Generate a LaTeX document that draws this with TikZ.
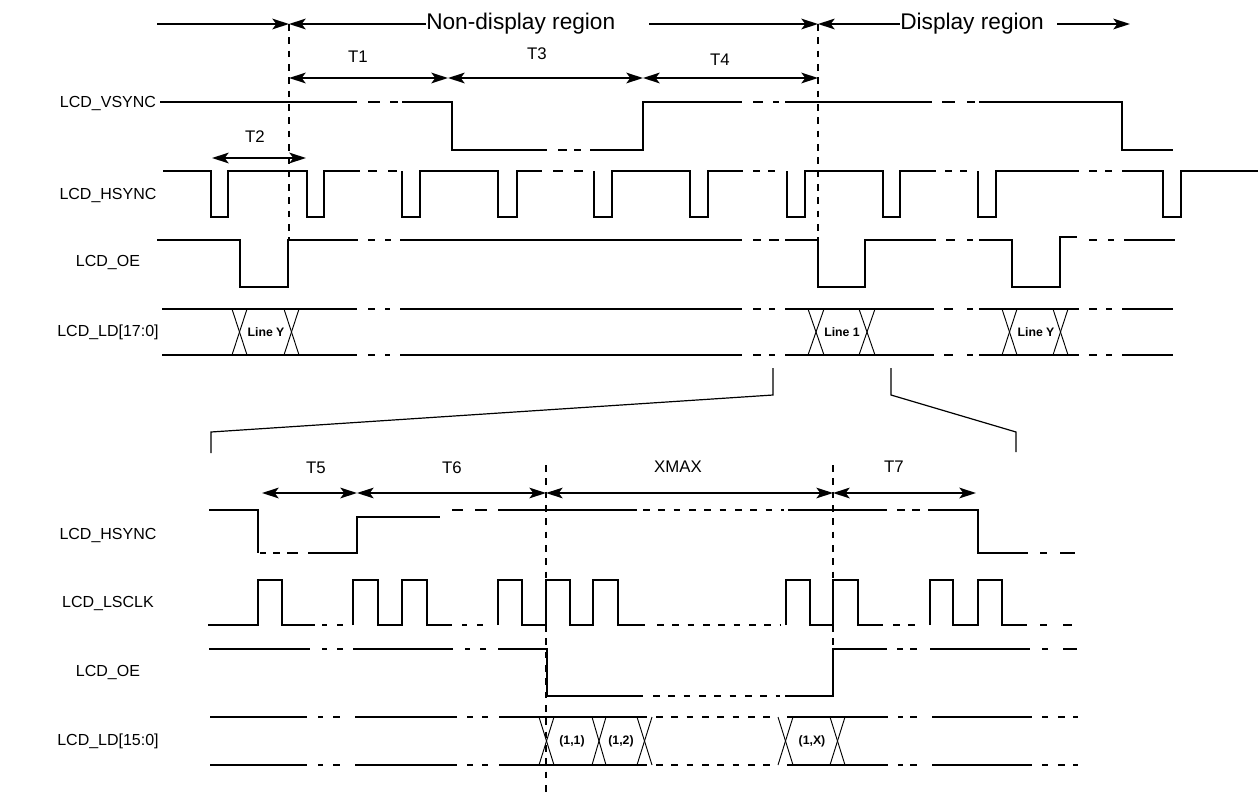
\documentclass[tikz,border=0pt]{standalone}
\usepackage{fontspec}
\setmainfont{Liberation Sans}
\usetikzlibrary{arrows.meta}
\newcommand\tdseg[3]{\draw[sig] (#1,#3) -- (#2,#3);}
\begin{document}
\begin{tikzpicture}[x=0.75pt,y=-0.75pt,
  sig/.style={line width=1.4pt},
  xl/.style={line width=0.7pt},
  brk/.style={line width=0.9pt},
  ldash/.style={line width=1.4pt, dash pattern=on 5pt off 6.5pt},
  vdash/.style={line width=1.5pt, dash pattern=on 5pt off 5pt},
  arr/.style={line width=1.4pt, {Stealth[length=12.5pt,width=8pt,inset=3pt]}-{Stealth[length=12.5pt,width=8pt,inset=3pt]}},
  rarr/.style={line width=1.4pt, -{Stealth[length=12.5pt,width=8pt,inset=3pt]}},
  larr/.style={line width=1.4pt, {Stealth[length=12.5pt,width=8pt,inset=3pt]}-},
  lab/.style={font=\fontsize{12}{14}\selectfont, inner sep=0pt},
  tl/.style={font=\fontsize{12.6}{14}\selectfont, inner sep=0pt},
  big/.style={font=\fontsize{17}{20}\selectfont, inner sep=0pt},
  bl/.style={font=\fontsize{9.2}{11}\selectfont\bfseries, inner sep=0pt}]
\useasboundingbox (0,0) rectangle (1259,793);
\fill[white] (0,0) rectangle (1259,793);

% ---------- signal labels ----------
\node[lab] (lv) at (108,103) {LCD\_VSYNC};
\node[lab] (lh) at (108,195) {LCD\_HSYNC};
\node[lab] (lo) at (108,262) {LCD\_OE};
\node[lab] (ll) at (108,332) {LCD\_LD[17:0]};
\node[lab] (bh) at (108,535) {LCD\_HSYNC};
\node[lab] (bc) at (108,603) {LCD\_LSCLK};
\node[lab] (bo) at (108,672) {LCD\_OE};
\node[lab] (bl) at (108,741) {LCD\_LD[15:0]};

% ---------- top region arrows ----------
\coordinate (a0) at (157,24);
\coordinate (v1) at (289,24);
\coordinate (v2) at (818,24);
\coordinate (a9) at (1130,24);
\node[big, anchor=west] (nd) at (426,24) {Non-display region};
\node[big, anchor=west] (dr) at (900,24) {Display region};
\coordinate (nd2) at (649,24);
\coordinate (dr2) at (1057,24);
\draw[rarr] (a0) -- (v1);
\draw[larr] (v1) -- (nd.west);
\draw[rarr] (nd2) -- (v2);
\draw[larr] (v2) -- (dr.west);
\draw[rarr] (dr2) -- (a9);

% vertical dashed markers (top)
\coordinate (v1b) at (289,240);
\coordinate (v2b) at (818,240);
\draw[vdash] (v1) -- (v1b);
\draw[vdash] (v2) -- (v2b);

% T1 T3 T4
\coordinate (t1a) at (289,78);
\coordinate (t1b) at (448,78);
\coordinate (t3b) at (643,78);
\coordinate (t4b) at (818,78);
\draw[arr] (t1a) -- (t1b);
\draw[arr] (t1b) -- (t3b);
\draw[arr] (t3b) -- (t4b);
\node[tl] (T1) at (358,57) {T1};
\node[tl] (T3) at (537,54) {T3};
\node[tl] (T4) at (720,60) {T4};

% T2
\coordinate (t2a) at (212,158);
\coordinate (t2b) at (306,158);
\draw[arr] (t2a) -- (t2b);
\node[tl] (T2) at (255,137) {T2};

% ---------- VSYNC ----------
\draw[sig] (160,102) -- (357,102);
\tdseg{368}{380}{102}\tdseg{390}{398}{102}
\draw[sig] (402,102) -- (452,102) -- (452,150) -- (547,150);
\tdseg{558}{567}{150}\tdseg{574}{581}{150}
\draw[sig] (590,150) -- (643,150) -- (643,102) -- (742,102);
\tdseg{753}{763}{102}\tdseg{773}{779}{102}
\draw[sig] (785,102) -- (932,102);
\tdseg{942}{955}{102}\tdseg{967}{975}{102}
\draw[sig] (979,102) -- (1122,102) -- (1122,150) -- (1173,150);

% ---------- HSYNC top ----------
\draw[sig] (163,171) -- (211,171) -- (211,217) -- (228,217) -- (228,171) -- (307,171) -- (307,217) -- (324,217) -- (324,171) -- (360,171);
\tdseg{368}{377}{171}\tdseg{388}{397}{171}
\draw[sig] (402,171) -- (402,217) -- (420,217) -- (420,171) -- (498,171) -- (498,217) -- (517,217) -- (517,171) -- (542,171);
\tdseg{553}{563}{171}\tdseg{574}{583}{171}
\draw[sig] (594,171) -- (594,217) -- (612,217) -- (612,171) -- (690,171) -- (690,217) -- (708,217) -- (708,171) -- (743,171);
\tdseg{753}{760}{171}\tdseg{768}{775}{171}
\draw[sig] (787,171) -- (787,217) -- (805,217) -- (805,171) -- (883,171) -- (883,217) -- (900,217) -- (900,171) -- (936,171);
\tdseg{945}{952}{171}\tdseg{960}{967}{171}
\draw[sig] (978,171) -- (978,217) -- (996,217) -- (996,171) -- (1079,171);
\tdseg{1089}{1097}{171}\tdseg{1105}{1112}{171}
\draw[sig] (1122,171) -- (1163,171) -- (1163,217) -- (1181,217) -- (1181,171) -- (1258,171);

% ---------- OE top ----------
\draw[sig] (157,240) -- (240,240) -- (240,287) -- (288,287) -- (288,240) -- (358,240);
\tdseg{368}{375}{240}\tdseg{385}{391}{240}
\draw[sig] (400,240) -- (742,240);
\tdseg{753}{761}{240}\tdseg{769}{779}{240}
\draw[sig] (785,240) -- (818,240) -- (818,287) -- (865,287) -- (865,240) -- (936,240);
\tdseg{946}{955}{240}\tdseg{967}{973}{240}
\draw[sig] (979,240) -- (1012,240) -- (1012,287) -- (1060,287) -- (1060,237) -- (1077,237);
\tdseg{1089}{1097}{240}\tdseg{1108}{1114}{240}
\draw[sig] (1124,240) -- (1175,240);

% ---------- LD top ----------
\foreach \yy in {309,355}{
  \draw[sig] (162,\yy) -- (357,\yy);
  \tdseg{368}{375}{\yy}\tdseg{385}{390}{\yy}
  \draw[sig] (400,\yy) -- (742,\yy);
  \tdseg{753}{761}{\yy}\tdseg{769}{775}{\yy}
  \draw[sig] (785,\yy) -- (934,\yy);
  \tdseg{944}{953}{\yy}\tdseg{967}{973}{\yy}
  \draw[sig] (979,\yy) -- (1079,\yy);
  \tdseg{1089}{1097}{\yy}\tdseg{1106}{1112}{\yy}
  \draw[sig] (1122,\yy) -- (1173,\yy);
}
\foreach \xa/\xb in {232/247,284/299,808/824,859/875,1002/1017,1053/1068}{
  \draw[xl] (\xa,309) -- (\xb,355);
  \draw[xl] (\xb,309) -- (\xa,355);
}
\node[bl] (ly1) at (266,332) {Line Y};
\node[bl] (l1) at (842,332) {Line 1};
\node[bl] (ly2) at (1036,332) {Line Y};

% ---------- zoom bracket ----------
\draw[brk] (773,368) -- (773,395) -- (211,432) -- (211,453);
\draw[brk] (891,368) -- (891,395) -- (1016,432) -- (1016,452);

% ---------- bottom arrows ----------
\coordinate (b1) at (262,493);
\coordinate (b2) at (357,493);
\coordinate (b3) at (546,493);
\coordinate (b4) at (833,493);
\coordinate (b5) at (976,493);
\draw[arr] (b1) -- (b2);
\draw[arr, line width=0.9pt] (b2) -- (b3);
\draw[arr, line width=0.9pt] (b3) -- (b4);
\draw[arr] (b4) -- (b5);
\node[tl] (T5) at (316,468) {T5};
\node[tl] (T6) at (452,468) {T6};
\node[tl] (XM) at (678,467) {XMAX};
\node[tl] (T7) at (894,467) {T7};
\coordinate (d1a) at (546,465);
\coordinate (d1b) at (546,793);
\coordinate (d2a) at (833,465);
\coordinate (d2b) at (833,648);
\draw[vdash] (d1a) -- (d1b);
\draw[vdash] (d2a) -- (d2b);

% ---------- HSYNC bottom ----------
\draw[sig] (209,510) -- (258,510) -- (258,553);
\tdseg{260}{266}{553}\tdseg{273}{280}{553}\tdseg{287}{298}{553}
\draw[sig] (308,553) -- (357,553) -- (357,517) -- (440,517);
\tdseg{452}{463}{510}\tdseg{475}{487}{510}
\draw[sig] (498,510) -- (637,510);
\draw[ldash] (643,510) -- (784,510);
\draw[sig] (788,510) -- (887,510);
\tdseg{897}{905}{510}\tdseg{912}{920}{510}
\draw[sig] (928,510) -- (978,510) -- (978,553) -- (1028,553);
\tdseg{1040}{1047}{553}\tdseg{1060}{1075}{553}

% ---------- LSCLK ----------
\draw[sig] (208,625) -- (258,625) -- (258,580) -- (282,580) -- (282,625) -- (315,625);
\tdseg{322}{327}{625}\tdseg{337}{343}{625}
\draw[sig] (353,625) -- (353,580) -- (378,580) -- (378,625) -- (402,625) -- (402,580) -- (427,580) -- (427,625) -- (452,625);
\tdseg{462}{467}{625}\tdseg{477}{483}{625}
\draw[sig] (498,625) -- (498,580) -- (522,580) -- (522,625) -- (546,625) -- (546,580) -- (570,580) -- (570,625) -- (593,625) -- (593,580) -- (618,580) -- (618,625) -- (645,625);
\draw[ldash] (657,625) -- (780,625);
\draw[sig] (786,625) -- (786,580) -- (810,580) -- (810,625) -- (833,625) -- (833,580) -- (858,580) -- (858,625) -- (883,625);
\tdseg{893}{900}{625}\tdseg{908}{915}{625}
\draw[sig] (930,625) -- (930,580) -- (953,580) -- (953,625) -- (978,625) -- (978,580) -- (1002,580) -- (1002,625) -- (1027,625);
\tdseg{1040}{1047}{625}\tdseg{1063}{1072}{625}

% ---------- OE bottom ----------
\draw[sig] (209,649) -- (310,649);
\tdseg{322}{327}{649}\tdseg{337}{343}{649}
\draw[sig] (353,649) -- (453,649);
\tdseg{465}{470}{649}\tdseg{480}{486}{649}
\draw[sig] (498,649) -- (547,649) -- (547,696) -- (643,696);
\draw[ldash] (653,696) -- (780,696);
\draw[sig] (785,696) -- (833,696) -- (833,649) -- (887,649);
\tdseg{897}{903}{649}\tdseg{910}{917}{649}
\draw[sig] (930,649) -- (1030,649);
\tdseg{1042}{1048}{649}\tdseg{1063}{1077}{649}

% ---------- LD bottom ----------
\foreach \yy in {717,765}{
  \draw[sig] (210,\yy) -- (307,\yy);
  \tdseg{318}{323}{\yy}\tdseg{333}{340}{\yy}
  \draw[sig] (355,\yy) -- (457,\yy);
  \tdseg{467}{473}{\yy}\tdseg{482}{488}{\yy}
  \draw[sig] (499,\yy) -- (647,\yy);
  \draw[ldash] (656,\yy) -- (778,\yy);
  \draw[sig] (787,\yy) -- (888,\yy);
  \tdseg{898}{903}{\yy}\tdseg{910}{917}{\yy}
  \draw[sig] (932,\yy) -- (1032,\yy);
  \tdseg{1042}{1048}{\yy}\tdseg{1058}{1065}{\yy}\tdseg{1073}{1078}{\yy}
}
\foreach \xa/\xb in {539/554,592/606,637/652,778/793,830/845}{
  \draw[xl] (\xa,717) -- (\xb,765);
  \draw[xl] (\xb,717) -- (\xa,765);
}
\node[bl] (p11) at (572,741) {(1,1)};
\node[bl] (p12) at (621,741) {(1,2)};
\node[bl] (p1x) at (812,741) {(1,X)};
\end{tikzpicture}
\end{document}
